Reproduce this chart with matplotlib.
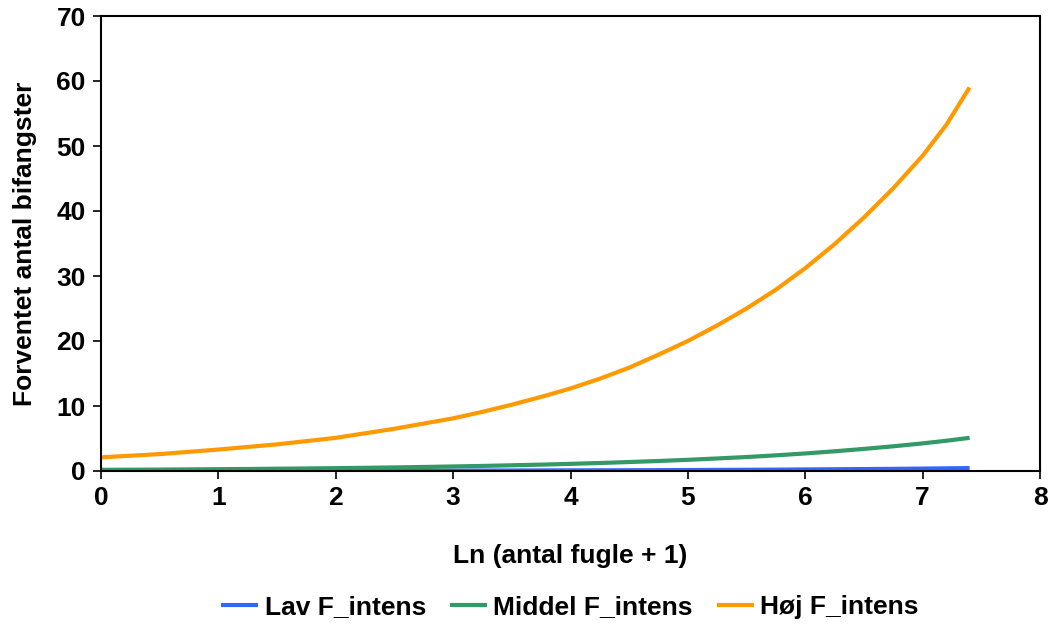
import matplotlib
matplotlib.use("Agg")
import matplotlib.pyplot as plt

x_vals = [0, 0.25, 0.5, 0.75, 1, 1.25, 1.5, 1.75, 2, 2.25, 2.5, 2.75, 3, 3.25, 3.5, 3.75,
          4, 4.25, 4.5, 4.75, 5, 5.25, 5.5, 5.75, 6, 6.25, 6.5, 6.75, 7, 7.2, 7.4]
lav = [0.02, 0.02, 0.03, 0.03, 0.03, 0.04, 0.04, 0.04, 0.04, 0.05, 0.05, 0.06, 0.06, 0.07,
       0.08, 0.09, 0.10, 0.11, 0.12, 0.13, 0.15, 0.17, 0.19, 0.21, 0.24, 0.27, 0.30, 0.33,
       0.37, 0.41, 0.45]
middel = [0.18, 0.20, 0.22, 0.25, 0.28, 0.31, 0.35, 0.39, 0.44, 0.49, 0.55, 0.62, 0.70,
          0.78, 0.88, 0.98, 1.10, 1.23, 1.38, 1.54, 1.72, 1.93, 2.15, 2.41, 2.70, 3.03,
          3.40, 3.80, 4.25, 4.65, 5.1]
hoej = [2.1, 2.35, 2.6, 2.95, 3.3, 3.7, 4.1, 4.6, 5.1, 5.8, 6.5, 7.3, 8.1, 9.1, 10.2, 11.4,
        12.7, 14.2, 15.9, 17.9, 20.0, 22.4, 25.0, 27.9, 31.2, 34.9, 39.0, 43.5, 48.5, 53.2,
        59.0]

series_names = ["Lav F_intens", "Middel F_intens", "Høj F_intens"]
colors = ["#3366ff", "#339966", "#ff9900"]

plt.rcParams['font.family'] = ['Liberation Sans', 'DejaVu Sans']
plt.rcParams['font.weight'] = 'bold'

fig = plt.figure(figsize=(10.5, 6.25), dpi=100)
ax = fig.add_axes([101/1050, 1 - 471/625, (1040-101)/1050, (471-16)/625])

for ys, name, c in zip([lav, middel, hoej], series_names, colors):
    ax.plot(x_vals, ys, color=c, lw=3, label=name, solid_capstyle='butt')

ax.set_xlim(0, 8)
ax.set_ylim(0, 70)
ax.set_xticks(range(0, 9))
ax.set_yticks(range(0, 71, 10))
ax.tick_params(direction='out', length=6, width=1.2, labelsize=19, pad=5)
for lbl in ax.get_xticklabels() + ax.get_yticklabels():
    lbl.set_fontweight('bold')
for s in ax.spines.values():
    s.set_linewidth(1.5)

ax.set_xlabel("Ln (antal fugle + 1)", fontsize=19, fontweight='bold', labelpad=24)
ax.set_ylabel("Forventet antal bifangster", fontsize=19, fontweight='bold', labelpad=14)

fig.legend(loc='center', bbox_to_anchor=(570/1050, 1 - 607/625), ncol=3, frameon=False,
           handlelength=1.4, columnspacing=0.9, handletextpad=0.25,
           prop={'weight': 'bold', 'size': 19})

fig.savefig("out.png", dpi=100)
